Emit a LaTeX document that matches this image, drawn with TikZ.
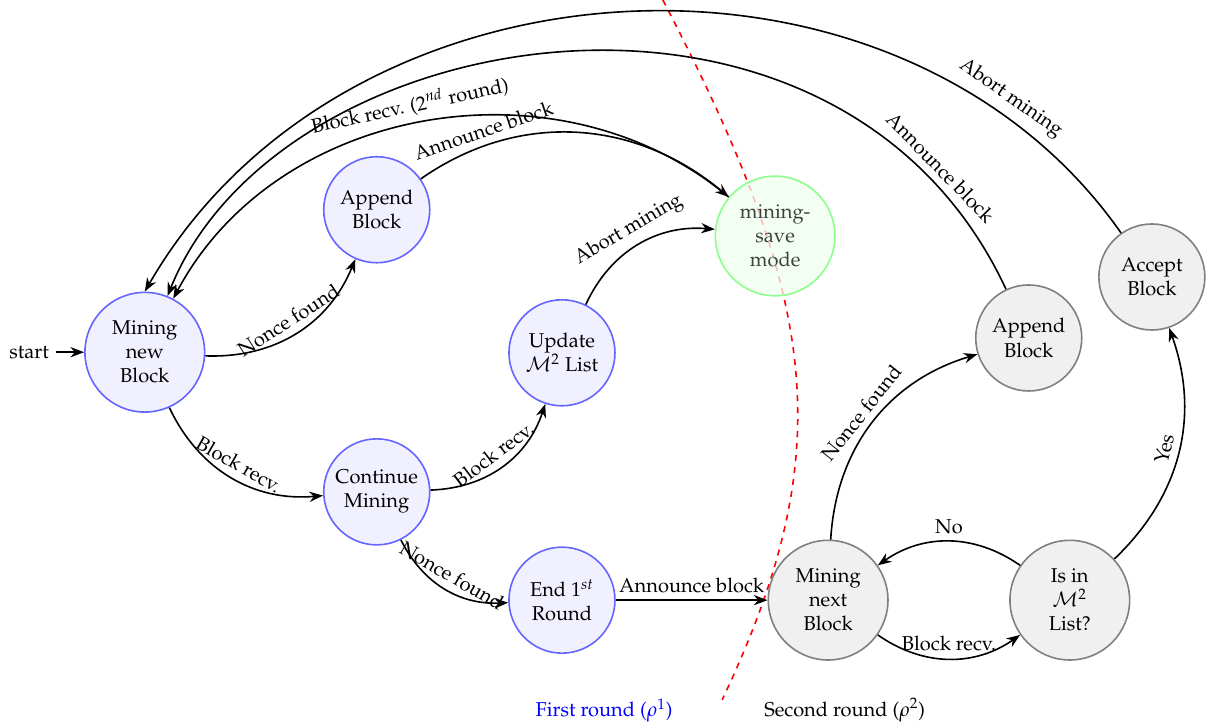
\documentclass[tikz,border=0pt]{standalone}
\usepackage[T1]{fontenc}
\usepackage{mathpazo}
\usepackage{amsmath}
\usepackage{tikz}
\usetikzlibrary{arrows.meta}
\tikzstyle{arrow}=[draw=black, thick, ->, >={Stealth[length=2.4mm]}]
\tikzstyle{firststate}=[circle, draw=blue!60, fill=blue!6, thick, align=center, inner sep=0pt, minimum size=1.86cm]
\tikzstyle{secondstate}=[circle, draw=gray, fill=gray!12, thick, align=center, inner sep=0pt, minimum size=1.86cm]
\tikzstyle{savestate}=[circle, draw=green!60, fill=green!6, thick, align=center, inner sep=0pt, minimum size=2.1cm, opacity=0.75]
\tikzstyle{bigstate}=[minimum size=2.1cm]

\begin{document}
\begin{tikzpicture}
	\useasboundingbox (0,0) rectangle (21.16,-12.74);
	\draw[red, dashed, thick] (11.63,0) .. controls (14.37,-5.26) and (14.75,-7.89) .. (12.67,-12.28);
	\node (start) at (0.51,-6.18) {start};
	\node[firststate, bigstate] (mnb) at (2.54,-6.18) {Mining\\new\\Block};
	\node[firststate] (app1) at (6.61,-3.68) {Append\\Block};
	\node[firststate] (upd) at (9.86,-6.19) {Update\\$\mathcal{M}^2$ List};
	\node[firststate] (cont) at (6.61,-8.63) {Continue\\Mining};
	\node[firststate] (end1) at (9.86,-10.53) {End $1^{st}$\\Round};
	\node[savestate] (save) at (13.60,-4.14) {mining-\\save\\mode};
	\node[secondstate] (app2) at (18.05,-5.93) {Append\\Block};
	\node[secondstate] (acc) at (20.21,-4.86) {Accept\\Block};
	\node[secondstate, bigstate] (mnext) at (14.53,-10.53) {Mining\\next\\Block};
	\node[secondstate, bigstate] (isin) at (18.77,-10.53) {Is in\\$\mathcal{M}^2$\\List?};
	\node[blue] (r1) at (10.60,-12.46) {First round ($\rho^1$)};
	\node (r2) at (14.82,-12.46) {Second round ($\rho^2$)};
	\draw[arrow] (start) -- (mnb);
	\draw[arrow] (mnb) to[bend right=35] node[above, sloped] {Nonce found} (app1);
	\draw[arrow] (mnb) to[bend right=35] node[above, sloped] {Block recv.} (cont);
	\draw[arrow] (cont) to[bend right=35] node[above, sloped] {Block recv.} (upd);
	\draw[arrow] (cont) to[bend right=33] node[above, sloped] {Nonce found} (end1);
	\draw[arrow] (upd) to[bend left=35] node[above, sloped] {Abort mining} (save);
	\draw[arrow] (app1) to[out=35, in=140] node[pos=0.22, above, sloped] {Announce block} (save);
	\draw[arrow] (save) to[out=140, in=62] node[pos=0.52, above, sloped] {Block recv. ($2^{nd}$ round)} (mnb);
	\draw[arrow] (app2) to[out=115, in=68, out distance=7.02cm, in distance=5.26cm] node[pos=0.12, above, sloped] {Announce block} (mnb);
	\draw[arrow] (acc) to[out=125, in=60, out distance=6.84cm, in distance=7.02cm] node[pos=0.15, above, sloped] {Abort mining} (mnb.north);
	\draw[arrow] (end1) -- node[above] {Announce block} (mnext);
	\draw[arrow] (mnext) to[bend left=35] node[above, sloped] {Nonce found} (app2);
	\draw[arrow] (mnext) to[bend right=35] node[above, sloped] {Block recv.} (isin);
	\draw[arrow] (isin) to[bend right=35] node[above] {No} (mnext);
	\draw[arrow] (isin) to[bend right=33] node[above, sloped] {Yes} (acc);
\end{tikzpicture}
\end{document}
